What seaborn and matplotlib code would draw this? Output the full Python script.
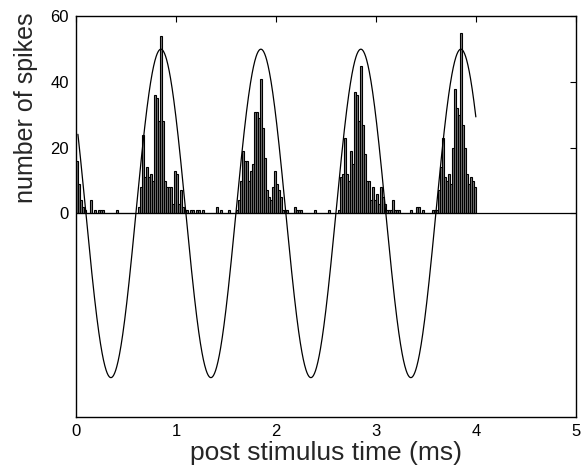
import numpy as np
import pandas as pd
import matplotlib
matplotlib.use("Agg")
import matplotlib.pyplot as plt
import seaborn as sns

# ---- data (bin left edges in ms, spike counts) ----
BIN_WIDTH_MS = 0.02

early_bins = [0.00, 0.02, 0.04, 0.06, 0.08, 0.14, 0.18, 0.22, 0.24, 0.26, 0.40]
early_counts = [16, 9, 4, 2, 1, 4, 1, 1, 1, 1, 1]

cycle1_bins = [0.62, 0.64, 0.66, 0.68, 0.70, 0.72, 0.74, 0.76, 0.78, 0.80, 0.82, 0.84,
               0.86, 0.88, 0.90, 0.92, 0.94, 0.96, 0.98, 1.00, 1.02, 1.04, 1.06, 1.08]
cycle1_counts = [2, 8, 24, 11, 14, 11, 12, 10, 36, 35, 28, 54,
                 28, 10, 8, 8, 8, 3, 13, 12, 3, 7, 2, 1]

gap1_bins = [1.10, 1.14, 1.16, 1.20, 1.22, 1.26, 1.40, 1.44, 1.52]
gap1_counts = [1, 1, 1, 1, 1, 1, 2, 1, 1]

cycle2_bins = [1.60, 1.62, 1.64, 1.66, 1.68, 1.70, 1.72, 1.74, 1.76, 1.78, 1.80, 1.82, 1.84,
               1.86, 1.88, 1.90, 1.92, 1.94, 1.96, 1.98, 2.00, 2.02, 2.04, 2.06, 2.08, 2.10]
cycle2_counts = [1, 4, 10, 19, 16, 16, 10, 13, 15, 31, 31, 29, 41,
                 26, 17, 7, 5, 4, 8, 13, 9, 7, 5, 1, 1, 1]

gap2_bins = [2.18, 2.20, 2.22, 2.24, 2.38, 2.52]
gap2_counts = [2, 1, 1, 1, 1, 1]

cycle3_bins = [2.62, 2.64, 2.66, 2.68, 2.70, 2.72, 2.74, 2.76, 2.78, 2.80, 2.82, 2.84,
               2.86, 2.88, 2.90, 2.92, 2.94, 2.96, 2.98, 3.00, 3.02, 3.04, 3.06, 3.08,
               3.10, 3.12, 3.14, 3.16, 3.18, 3.20, 3.22]
cycle3_counts = [1, 11, 12, 23, 12, 10, 19, 15, 37, 36, 28, 45,
                 27, 18, 10, 10, 4, 8, 4, 6, 3, 8, 5, 3,
                 1, 1, 1, 4, 1, 1, 1]

gap3_bins = [3.34, 3.40, 3.42, 3.46, 3.56]
gap3_counts = [1, 2, 2, 1, 1]

cycle4_bins = [3.58, 3.60, 3.62, 3.64, 3.66, 3.68, 3.70, 3.72, 3.74, 3.76, 3.78, 3.80, 3.82,
               3.84, 3.86, 3.88, 3.90, 3.92, 3.94, 3.96, 3.98]
cycle4_counts = [1, 1, 7, 14, 23, 11, 10, 12, 9, 20, 38, 32, 30,
                 55, 27, 20, 12, 9, 11, 10, 8]

# stimulus waveform parameters
STIM_AMPLITUDE = 50.0
STIM_PERIOD_MS = 1.0
STIM_PEAK_MS = 0.85
STIM_START_MS = 0.02
STIM_END_MS = 4.0

x_ticks = [0, 1, 2, 3, 4, 5]
y_ticks = [0, 20, 40, 60]

# ---- build tables ----
bins = (early_bins + cycle1_bins + gap1_bins + cycle2_bins + gap2_bins +
        cycle3_bins + gap3_bins + cycle4_bins)
counts = (early_counts + cycle1_counts + gap1_counts + cycle2_counts + gap2_counts +
          cycle3_counts + gap3_counts + cycle4_counts)
psth = pd.DataFrame({"t": np.array(bins) + BIN_WIDTH_MS / 2, "n": counts})

t_stim = np.linspace(STIM_START_MS, STIM_END_MS, 1200)
stim = pd.DataFrame({
    "t": t_stim,
    "v": STIM_AMPLITUDE * np.cos(2 * np.pi * (t_stim - STIM_PEAK_MS) / STIM_PERIOD_MS),
})

# ---- plot ----
sns.set_theme(style="white")
plt.rcParams["font.family"] = ["Liberation Sans", "DejaVu Sans"]

fig = plt.figure(figsize=(5.84, 4.67), dpi=100)
ax = fig.add_axes([0.130, 0.107, 0.856, 0.858])

sns.histplot(data=psth, x="t", weights="n", binwidth=BIN_WIDTH_MS, binrange=(0, 4.0),
             color="#7a7a7a", edgecolor="black", linewidth=0.8, alpha=1.0, ax=ax)
sns.lineplot(data=stim, x="t", y="v", color="black", linewidth=0.9, ax=ax,
             estimator=None, sort=False)
ax.axhline(0, color="black", linewidth=0.9)

ax.set_xlim(0, 5)
ax.set_ylim(-62, 60)
ax.set_xticks(x_ticks)
ax.set_yticks(y_ticks)
ax.set_xticklabels([str(v) for v in x_ticks])
ax.set_yticklabels([str(v) for v in y_ticks])
ax.tick_params(direction="in", length=4, width=0.8, top=True, right=True,
               labelsize=12, colors="black", pad=5)
for s in ax.spines.values():
    s.set_color("black")
    s.set_linewidth(1.0)
ax.set_xlabel("post stimulus time (ms)", fontsize=19, labelpad=1.5)
ax.set_ylabel("number of spikes", fontsize=18)
ax.yaxis.set_label_coords(-0.075, 0.772)

fig.savefig("out.png", dpi=100, facecolor="white")
